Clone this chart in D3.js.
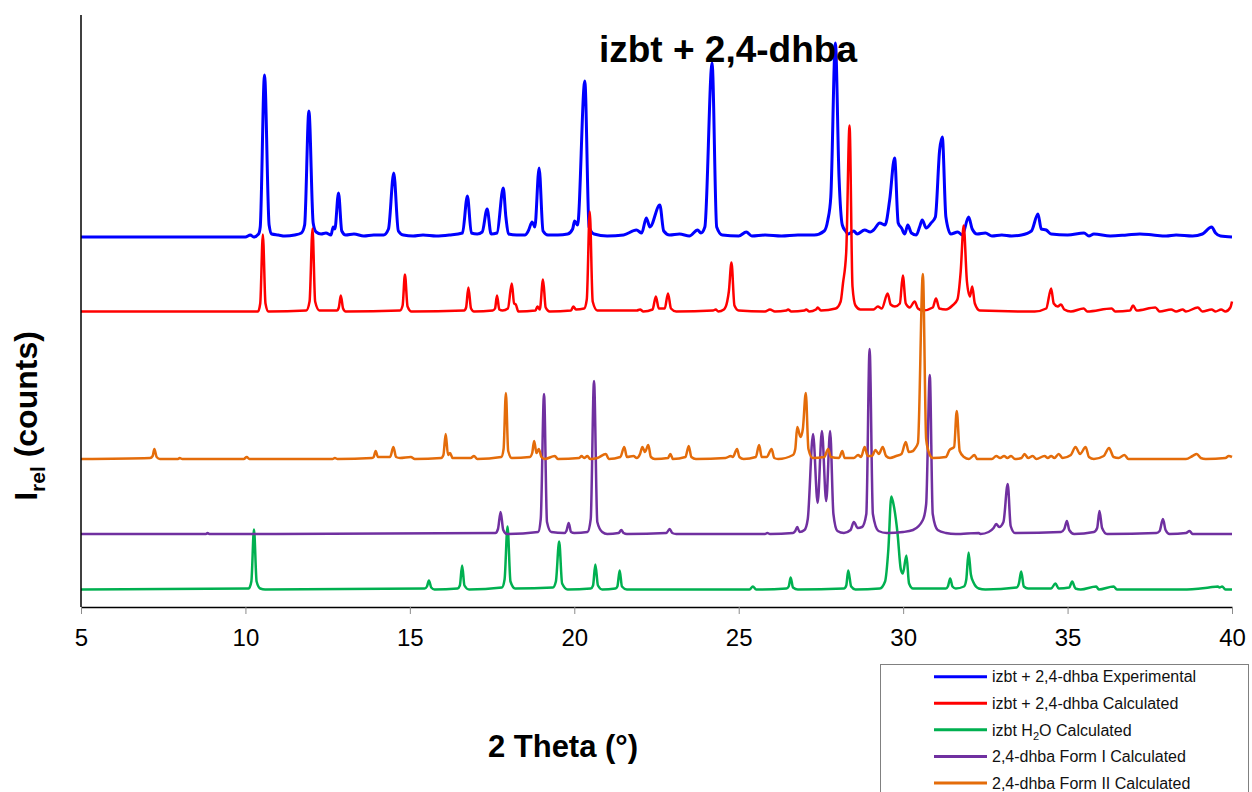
<!DOCTYPE html>
<html>
<head>
<meta charset="utf-8">
<title>izbt + 2,4-dhba PXRD</title>
<script src="https://d3js.org/d3.v7.min.js"></script>
<style>
  html, body {
    margin: 0;
    background: #fff;
  }
  body {
    font-family: "Liberation Sans", Arial, sans-serif;
  }
  .trace {
    fill: none;
    stroke-linejoin: round;
  }
  .axis--x .tick line {
    stroke: #8c8c8c;
  }
</style>
</head>
<body>
<svg width="1252" height="792"></svg>
<script>

// series names, colours and vertical offsets (stacked patterns)
var seriesNames = ["izbt + 2,4-dhba Experimental", "izbt + 2,4-dhba Calculated",
                   "izbt H2O Calculated", "2,4-dhba Form I Calculated", "2,4-dhba Form II Calculated"];
var seriesColors = ["#0000ff", "#ff0000", "#00b050", "#7030a0", "#e46c0a"];
var seriesOffsets = [370, 295.5, 17.5, 73, 148];

var xTicks = [5, 10, 15, 20, 25, 30, 35, 40];

// [2 theta, relative counts]
var expBlend = [[5,0],[10.0,0],[10.15,2],[10.25,0],[10.4,3],[10.45,10],[10.58,162],[10.72,12],[10.8,3],[11.0,2],[11.2,1],[11.5,2],[11.7,4],[11.8,12],[11.93,126],[12.06,14],[12.15,5],[12.3,3],[12.45,4],[12.6,2],[12.67,10],[12.72,8],[12.83,44],[12.93,6],[13.05,2],[13.3,3],[13.6,1],[13.9,2],[14.2,2],[14.35,8],[14.51,64],[14.65,6],[14.8,2],[15.1,1],[15.4,2],[15.8,1],[16.2,2],[16.6,4],[16.75,41],[16.87,4],[17.05,3],[17.2,5],[17.35,28],[17.47,3],[17.65,4],[17.84,49],[17.92,20],[18.0,3],[18.25,2],[18.5,2],[18.6,6],[18.72,15],[18.8,10],[18.93,69],[19.05,6],[19.2,2],[19.5,2],[19.8,3],[19.95,8],[20.01,16],[20.1,12],[20.32,156],[20.45,10],[20.6,3],[21.0,1],[21.5,2],[21.89,7],[22.05,4],[22.19,19],[22.3,10],[22.6,32],[22.72,6],[22.9,2],[23.2,3],[23.5,1],[23.75,7],[23.85,4],[23.97,10],[24.19,174],[24.33,10],[24.5,2],[25.0,1],[25.23,5],[25.4,1],[25.8,2],[26.3,1],[26.8,2],[27.3,2],[27.6,6],[27.71,17],[27.8,40],[27.94,194],[28.05,60],[28.15,12],[28.25,6],[28.33,3],[28.5,6],[28.6,3],[28.83,7],[29.0,5],[29.1,7],[29.29,14],[29.45,12],[29.59,37],[29.74,79],[29.85,14],[29.95,9],[30.05,3],[30.14,12],[30.25,4],[30.4,2],[30.5,10],[30.58,17],[30.7,9],[30.85,14],[30.98,20],[31.11,87],[31.19,100],[31.3,20],[31.45,3],[31.66,5],[31.8,2],[31.99,20],[32.1,8],[32.25,3],[32.5,4],[32.7,1],[33.0,2],[33.3,1],[33.6,2],[33.9,6],[34.1,23],[34.2,8],[34.35,7],[34.5,3],[35.0,2],[35.5,4],[35.65,1],[35.8,3],[36.3,1],[36.8,2],[37.2,3],[37.6,2],[38.0,1],[38.3,2],[38.8,1],[39.1,3],[39.38,10],[39.5,4],[39.65,1],[40,0]];

var calcBlend = [[5,0],[10.38,0],[10.45,8],[10.53,77],[10.61,8],[10.7,0],[11.85,1],[11.95,10],[12.04,83],[12.12,10],[12.25,1],[12.78,1],[12.84,4],[12.9,16],[12.97,3],[13.05,0],[14.7,1],[14.78,6],[14.85,37],[14.93,5],[15.05,0],[16.65,1],[16.71,4],[16.78,24],[16.86,3],[16.95,0],[17.52,1],[17.59,3],[17.65,16],[17.72,2],[17.82,1],[17.98,3],[18.1,28],[18.17,8],[18.22,7],[18.3,0],[18.82,1],[18.88,5],[18.95,2],[19.05,32],[19.13,4],[19.25,0],[19.9,1],[19.97,5],[20.05,2],[20.3,3],[20.38,12],[20.47,100],[20.56,10],[20.7,1],[21.9,1],[22.0,2],[22.1,0],[22.38,2],[22.48,15],[22.57,3],[22.75,3],[22.85,18],[22.94,3],[23.1,0],[24.22,1],[24.3,2],[24.38,0],[24.55,2],[24.65,10],[24.7,20],[24.78,49],[24.87,6],[25.0,1],[25.8,0],[25.95,2],[26.1,0],[26.45,1],[26.5,2],[26.6,0],[27.0,1],[27.05,2],[27.15,0],[27.35,2],[27.4,4],[27.5,1],[27.95,3],[28.1,10],[28.17,28],[28.27,60],[28.37,186],[28.46,25],[28.55,6],[28.7,2],[29.1,2],[29.23,5],[29.35,3],[29.53,18],[29.62,7],[29.75,5],[29.9,8],[29.99,36],[30.08,8],[30.2,4],[30.35,10],[30.45,3],[30.6,1],[30.9,4],[31.0,13],[31.1,3],[31.3,2],[31.5,6],[31.65,12],[31.75,40],[31.84,86],[31.94,30],[32.03,15],[32.1,25],[32.18,8],[32.33,1],[34.0,0],[34.35,3],[34.5,23],[34.58,8],[34.7,5],[34.8,7],[34.9,2],[35.1,0],[35.49,3],[35.6,0],[36.34,3],[36.45,0],[36.9,1],[36.99,6],[37.1,1],[37.67,4],[37.8,0],[38.15,2],[38.3,0],[38.5,2],[38.6,0],[38.96,4],[39.1,0],[39.38,2],[39.5,0],[39.67,2],[39.8,0],[39.95,4],[40,10]];

var calcHydrate = [[5,0],[10.1,1],[10.18,8],[10.26,60],[10.34,8],[10.45,1],[10.6,0],[15.45,1],[15.52,3],[15.58,9],[15.65,2],[15.75,0],[16.45,1],[16.52,4],[16.59,24],[16.66,4],[16.8,0],[17.8,2],[17.88,10],[17.97,63],[18.06,8],[18.2,1],[19.35,2],[19.44,8],[19.54,48],[19.63,6],[19.8,0],[20.5,1],[20.57,4],[20.64,25],[20.72,4],[20.85,0],[21.25,1],[21.31,3],[21.38,19],[21.45,3],[21.6,0],[25.33,0],[25.43,3],[25.53,0],[26.45,1],[26.52,3],[26.58,12],[26.65,2],[26.8,0],[28.2,1],[28.27,4],[28.33,19],[28.42,3],[28.55,0],[29.29,1],[29.45,8],[29.55,40],[29.64,93],[29.72,83],[29.83,56],[29.93,20],[29.99,16],[30.1,34],[30.18,6],[30.3,1],[31.3,1],[31.36,3],[31.43,11],[31.5,3],[31.6,1],[31.85,3],[31.92,10],[31.99,37],[32.06,15],[32.14,7],[32.3,1],[32.5,0],[33.45,2],[33.52,6],[33.59,18],[33.67,3],[33.8,1],[34.5,1],[34.63,6],[34.73,1],[35.05,2],[35.14,8],[35.24,1],[35.4,0],[35.87,3],[35.95,0],[36.4,3],[36.5,0],[38.5,0],[39.3,2],[39.57,3],[39.62,2],[39.7,3],[39.8,0],[40,0]];

var calcFormI = [[5,0],[8.8,0],[8.85,1],[8.9,0],[17.6,1],[17.68,5],[17.76,22],[17.84,4],[17.95,0],[18.9,2],[18.98,15],[19.08,140],[19.17,12],[19.3,2],[19.7,1],[19.76,3],[19.83,11],[19.9,2],[20.0,1],[20.4,2],[20.5,15],[20.6,153],[20.7,12],[20.85,2],[21.0,0],[21.35,1],[21.43,4],[21.5,1],[21.6,0],[22.8,1],[22.9,5],[22.98,1],[23.1,0],[25.8,0],[25.87,1],[25.95,0],[26.65,1],[26.72,3],[26.78,7],[26.85,2],[27.0,4],[27.1,15],[27.26,100],[27.4,31],[27.53,103],[27.66,33],[27.78,103],[27.88,20],[28.0,3],[28.2,1],[28.4,4],[28.5,12],[28.62,6],[28.75,7],[28.88,20],[28.98,185],[29.08,20],[29.25,3],[29.5,1],[30.0,2],[30.3,4],[30.6,14],[30.7,30],[30.81,159],[30.9,20],[31.05,4],[31.3,1],[31.6,0],[32.3,1],[32.35,0],[32.6,2],[32.75,6],[32.83,10],[32.92,7],[33.05,12],[33.18,50],[33.27,8],[33.4,1],[34.8,2],[34.9,5],[34.98,13],[35.05,4],[35.2,0],[35.8,2],[35.9,6],[35.97,23],[36.05,6],[36.2,0],[37.7,1],[37.8,3],[37.9,15],[37.98,4],[38.1,0],[38.6,1],[38.71,3],[38.8,0],[40,0]];

var calcFormII = [[5,0],[7.1,1],[7.18,3],[7.23,10],[7.3,2],[7.4,0],[7.95,0],[8.0,1],[8.08,0],[9.95,0],[10.04,2],[10.12,0],[12.65,0],[12.72,1],[12.8,0],[13.85,1],[13.9,2],[13.96,8],[14.03,2],[14.4,2],[14.5,12],[14.58,2],[14.7,1],[15.03,2],[15.15,0],[15.95,1],[16.02,4],[16.09,25],[16.16,4],[16.22,6],[16.3,1],[16.85,1],[16.95,3],[17.05,0],[17.78,2],[17.85,10],[17.92,66],[17.99,8],[18.1,1],[18.65,2],[18.72,6],[18.78,18],[18.85,6],[18.92,10],[19.0,2],[19.1,0],[19.41,3],[19.5,0],[20.15,1],[20.22,3],[20.3,1],[20.4,3],[20.48,0],[20.7,1],[20.96,5],[21.05,0],[21.4,2],[21.52,12],[21.6,2],[21.8,3],[21.9,1],[22.0,5],[22.07,12],[22.15,7],[22.25,14],[22.33,2],[22.45,0],[22.85,1],[22.92,5],[23.0,0],[23.38,2],[23.48,13],[23.56,2],[23.7,0],[24.6,1],[24.76,3],[24.82,2],[24.95,10],[25.02,2],[25.15,0],[25.52,2],[25.62,14],[25.7,2],[25.85,2],[26.0,10],[26.08,1],[26.2,0],[26.65,4],[26.72,10],[26.78,32],[26.88,22],[26.95,30],[27.04,66],[27.12,10],[27.25,1],[27.6,2],[27.72,10],[27.8,2],[28.05,1],[28.15,8],[28.22,1],[28.5,1],[28.63,4],[28.72,2],[28.83,12],[28.92,3],[29.05,3],[29.16,9],[29.26,5],[29.38,12],[29.48,3],[29.6,1],[29.79,3],[29.95,5],[30.08,17],[30.17,7],[30.3,8],[30.35,10],[30.45,16],[30.6,185],[30.7,20],[30.8,5],[30.9,1],[31.3,2],[31.41,9],[31.55,12],[31.63,48],[31.72,8],[31.85,2],[32.0,0],[32.17,4],[32.25,0],[32.7,0],[32.83,3],[32.95,1],[33.07,3],[33.17,1],[33.28,3],[33.4,0],[33.6,1],[33.69,5],[33.8,1],[33.94,3],[34.05,0],[34.3,3],[34.4,1],[34.5,3],[34.6,1],[34.73,5],[34.85,1],[35.1,4],[35.24,12],[35.38,5],[35.55,12],[35.65,2],[35.8,0],[36.1,3],[36.26,11],[36.4,2],[36.55,1],[36.73,4],[36.85,0],[38.6,0],[38.8,3],[38.93,5],[39.05,1],[39.2,0],[39.8,1],[39.9,3],[40,2]];

var seriesData = [expBlend, calcBlend, calcHydrate, calcFormI, calcFormII];

var svg = d3.select("svg"),
    margin = {top: 15, left: 81, right: 20, bottom: 185},
    width = 1232 - margin.left,
    height = 607 - margin.top;

var x = d3.scaleLinear().domain([5, 40]).range([0, width]);
var y = d3.scaleLinear().domain([0, height]).range([height, 0]);

var g = svg.append("g")
    .attr("transform", "translate(" + margin.left + "," + margin.top + ")");

// patterns, drawn in legend order so later ones sit on top
seriesData.forEach(function(pts, i) {
    var line = d3.line()
        .curve(d3.curveMonotoneX)
        .x(function(d) { return x(d[0]); })
        .y(function(d) { return y(d[1] + seriesOffsets[i]); });

    g.append("path")
        .datum(pts)
        .attr("class", "trace")
        .attr("d", line)
        .attr("stroke", seriesColors[i])
        .attr("stroke-width", i == 0 ? 3 : 2.5);
});

// axes
var xAxis = g.append("g")
    .attr("class", "axis axis--x")
    .attr("transform", "translate(0," + height + ")")
    .call(d3.axisBottom(x).tickValues(xTicks).tickSize(7).tickPadding(15).tickSizeOuter(0));
xAxis.select(".domain").attr("stroke", "#000").attr("stroke-width", 1.5);
xAxis.selectAll("text")
    .attr("font-family", "'Liberation Sans', Arial, sans-serif")
    .attr("font-size", 24)
    .attr("fill", "#000");

g.append("line")
    .attr("x1", 0).attr("x2", 0)
    .attr("y1", 0).attr("y2", height)
    .attr("stroke", "#000")
    .attr("stroke-width", 1.5);

// title and axis titles
svg.append("text")
    .attr("x", 728).attr("y", 62)
    .attr("text-anchor", "middle")
    .attr("font-size", 37)
    .attr("font-weight", "bold")
    .text("izbt + 2,4-dhba");

svg.append("text")
    .attr("x", 563).attr("y", 757)
    .attr("text-anchor", "middle")
    .attr("font-size", 31)
    .attr("font-weight", "bold")
    .text("2 Theta (°)");

var yLab = svg.append("text")
    .attr("transform", "translate(37,416) rotate(-90)")
    .attr("text-anchor", "middle")
    .attr("font-size", 32)
    .attr("font-weight", "bold");
yLab.append("tspan").text("I");
yLab.append("tspan").attr("font-size", 21).attr("dy", 8).text("rel");
yLab.append("tspan").attr("dy", -8).text(" (counts)");

// legend (runs off the bottom edge like the original)
var legend = svg.append("g");
legend.append("rect")
    .attr("x", 880.5).attr("y", 664.5)
    .attr("width", 368).attr("height", 150)
    .attr("fill", "#fff")
    .attr("stroke", "#808080");

var rowY = d3.scalePoint().domain(d3.range(5)).range([676.7, 783]);

seriesNames.forEach(function(name, i) {
    legend.append("line")
        .attr("x1", 934).attr("x2", 987)
        .attr("y1", rowY(i)).attr("y2", rowY(i))
        .attr("stroke", seriesColors[i])
        .attr("stroke-width", 3);
    var t = legend.append("text")
        .attr("x", 992).attr("y", rowY(i))
        .attr("dy", "0.36em")
        .attr("font-size", 16)
        .attr("fill", "#111");
    if (name.indexOf("H2O") >= 0) {
        t.append("tspan").text("izbt H");
        t.append("tspan").attr("font-size", 11).attr("dy", 4).text("2");
        t.append("tspan").attr("dy", -4).text("O Calculated");
    } else {
        t.text(name);
    }
});

</script>
</body>
</html>
